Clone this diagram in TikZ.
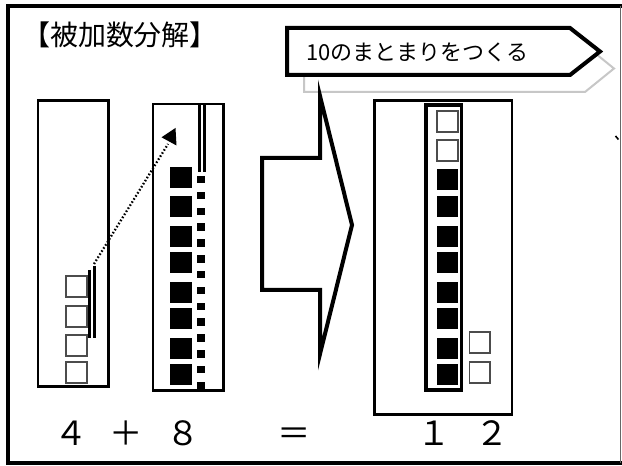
\documentclass[tikz,border=0pt]{standalone}
\usepackage{fontspec}
\newfontfamily\jp{Noto Sans CJK JP}
\begin{document}
\begin{tikzpicture}[x=0.75pt,y=-0.75pt,
  frameline/.style={line width=3pt, line join=miter},
  panelbox/.style={draw, line width=2pt},
  innerbox/.style={draw, line width=2.6pt},
  opensq/.style={draw=black!70, line width=0.9pt, fill=white},
  filledsq/.style={fill=black},
  dblline/.style={line width=1.9pt},
  bigarrow/.style={draw, fill=white, line width=3pt, line join=miter},
  callout/.style={draw, fill=white, line width=3pt, line join=miter},
  calloutshadow/.style={draw=black!22, fill=white, line width=1.5pt},
  dotline/.style={line width=1.7pt, dash pattern=on 1.2pt off 1.5pt},
  eqtext/.style={font=\jp\fontsize{25}{25}\selectfont, inner sep=0pt, anchor=base},
  smallmark/.style={line width=1.2pt}
]
\useasboundingbox (0,0) rectangle (622,466);

% outer frame
\draw[frameline] (624,6) -- (7.5,6) -- (7.5,463) -- (624,463);
\draw[black!60, line width=0.9pt] (620.5,6) -- (620.5,463);
\draw[smallmark] (615.5,136) -- (618.5,139.5);

% title
\node[font=\jp\fontsize{21}{21}\selectfont, inner sep=0pt] (title) at (120,35) {【被加数分解】};

% panel 1 (augend 4)
\draw[panelbox] (38,100.7) rectangle (108.7,386.5);
\foreach \y in {276,306,335,362} \draw[opensq] (66,\y) rectangle ++(21,21);
\draw[dblline] (89.5,270) -- (89.5,338);
\draw[dblline] (94.5,266) -- (94.5,338);

% panel 2 (addend 8)
\draw[panelbox] (153,104) rectangle (223.5,390.5);
\draw[dblline] (199.5,104) -- (199.5,172);
\draw[dblline] (204.5,104) -- (204.5,172);
\foreach \y in {167,196,226,252,282,308,338,364} \fill[filledsq] (170,\y) rectangle ++(21.7,21);
\foreach \i in {0,...,13} \fill[filledsq] (197.3,{176+\i*15.83}) rectangle ++(7.7,7.5);

% dotted moving arrow
\coordinate (dotstart) at (94,264);
\coordinate (dotend) at (168,144);
\draw[dotline] (dotstart) -- (dotend);
\fill (161.5,137.3) -- (175.5,128) -- (176.5,145.5) -- cycle;

% panel 3 (sum 12)
\draw[panelbox] (374.2,100.7) rectangle (512,414.7);
\draw[innerbox] (426,105) rectangle (461.7,390);
\foreach \y in {111,140} \draw[opensq] (437,\y) rectangle ++(21,21);
\foreach \y in {169,196,226,252,282,308,338,364} \fill[filledsq] (437,\y) rectangle ++(21.3,21);
\foreach \y in {332,362} \draw[opensq] (469.5,\y) rectangle ++(20.5,21);

% callout shadow, big arrow, callout
\draw[calloutshadow] (304,45) -- (585,45) -- (614,68.5) -- (585,92) -- (304,92) -- cycle;
\draw[bigarrow] (262,158) -- (320,158) -- (320,96) -- (352,225) -- (320,354) -- (320,290) -- (262,290) -- cycle;
\draw[callout] (287,28) -- (570,28) -- (600,51.5) -- (570,75) -- (287,75) -- cycle;
\node[font=\jp\fontsize{16.5}{16.5}\selectfont, anchor=west, inner sep=0pt] (calltext) at (306,52) {10のまとまりをつくる};

% equation
\node[eqtext] (n4) at (71,446) {４};
\node[eqtext] (plus) at (126,446) {＋};
\node[eqtext] (n8) at (183,446) {８};
\node[eqtext] (eq) at (294,446) {＝};
\node[eqtext] (n1) at (434,446) {１};
\node[eqtext] (n2) at (492,446) {２};
\end{tikzpicture}
\end{document}
